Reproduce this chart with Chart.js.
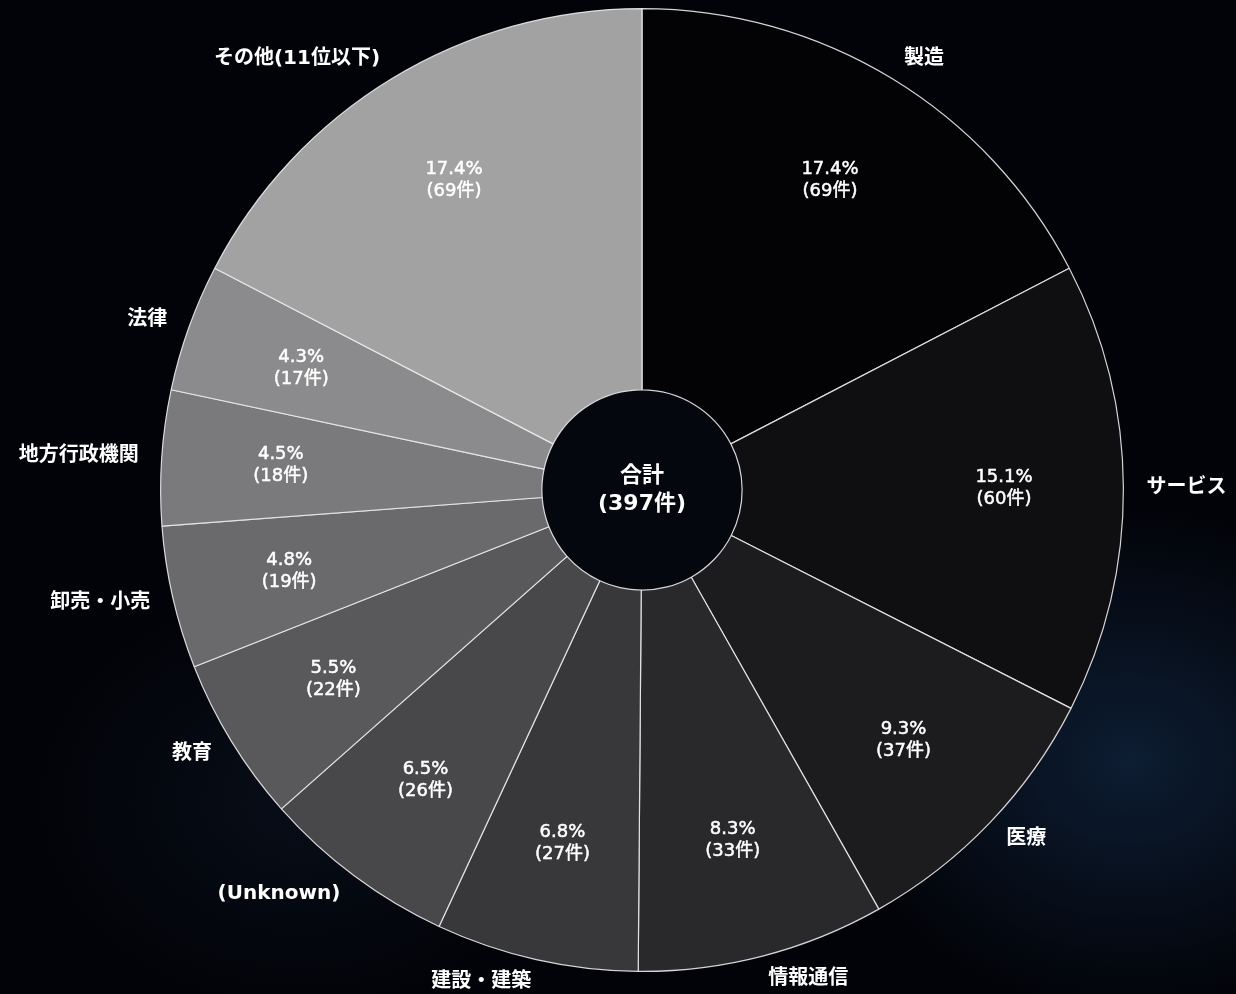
<!DOCTYPE html>
<html lang="ja">
<head>
<meta charset="utf-8">
<script src="https://cdn.jsdelivr.net/npm/chart.js@4"></script>
<style>
  html, body { margin: 0; padding: 0; }
  body {
    width: 1236px; height: 994px; overflow: hidden;
    background:
      radial-gradient(ellipse 420px 360px at 1130px 760px, rgba(22,50,85,0.55), rgba(0,0,0,0) 70%),
      radial-gradient(ellipse 380px 300px at 300px 800px, rgba(14,26,44,0.45), rgba(0,0,0,0) 70%),
      #020308;
  }
  #wrap { position: relative; width: 1236px; height: 994px; }
</style>
</head>
<body>
<div id="wrap"><canvas id="industryChart"></canvas></div>
<script>
const categories = ["製造", "サービス", "医療", "情報通信", "建設・建築", "(Unknown)", "教育", "卸売・小売", "地方行政機関", "法律", "その他(11位以下)"];
const counts = [69, 60, 37, 33, 27, 26, 22, 19, 18, 17, 69];
const sliceColors = ["#030306", "#0f0f12", "#1c1c1f", "#29292c", "#38383b", "#48484b", "#59595c", "#6a6a6d", "#7a7a7c", "#8b8b8d", "#a2a2a2"];
const centerTitle = "合計";

const total = counts.reduce((a, b) => a + b, 0);
const latinFont = '"DejaVu Sans", "Noto Sans CJK JP", sans-serif';

// labels drawn around and inside the ring
const ringLabels = {
  id: 'ringLabels',
  beforeDatasetsDraw(chart) {
    const arc = chart.getDatasetMeta(0).data[0];
    const ctx = chart.ctx;
    ctx.save();
    ctx.beginPath();
    ctx.arc(arc.x, arc.y, arc.innerRadius, 0, Math.PI * 2);
    ctx.fillStyle = '#05070f';
    ctx.fill();
    ctx.restore();
  },
  afterDatasetsDraw(chart) {
    const ctx = chart.ctx;
    const meta = chart.getDatasetMeta(0);
    ctx.save();
    ctx.fillStyle = '#ffffff';
    ctx.strokeStyle = '#ffffff';
    ctx.textBaseline = 'middle';
    meta.data.forEach((el, i) => {
      const mid = (el.startAngle + el.endAngle) / 2;
      const cx = el.x, cy = el.y;
      const vx = Math.cos(mid), vy = Math.sin(mid);
      // value text inside (a thin stroke to make it look medium weight)
      const rIn = el.outerRadius * 0.752;
      const px = cx + vx * rIn, py = cy + vy * rIn;
      ctx.textAlign = 'center';
      ctx.font = '18px ' + latinFont;
      ctx.lineWidth = 0.5;
      const pct = (counts[i] / total * 100).toFixed(1) + '%';
      const cnt = '(' + counts[i] + '件)';
      ctx.fillText(pct, px, py - 11);
      ctx.strokeText(pct, px, py - 11);
      ctx.fillText(cnt, px, py + 11);
      ctx.strokeText(cnt, px, py + 11);
      // category name outside, anchored on the ray
      const rOut = el.outerRadius + 23;
      ctx.font = 'bold 20px ' + latinFont;
      ctx.textAlign = vx >= 0 ? 'left' : 'right';
      ctx.fillText(categories[i], cx + vx * rOut, cy + vy * rOut);
    });
    const c = meta.data[0];
    ctx.textAlign = 'center';
    ctx.font = 'bold 22px ' + latinFont;
    ctx.fillText(centerTitle, c.x, c.y - 14);
    ctx.fillText('(' + total + '件)', c.x, c.y + 14);
    ctx.restore();
  }
};

new Chart(document.getElementById('industryChart'), {
  type: 'doughnut',
  data: {
    labels: categories,
    datasets: [{
      data: counts,
      backgroundColor: sliceColors,
      borderColor: 'rgba(235,235,235,0.9)',
      borderWidth: 1.2
    }]
  },
  options: {
    responsive: true,
    maintainAspectRatio: false,
    animation: false,
    cutout: '20.8%',
    layout: { padding: { left: 160, right: 112, top: 8, bottom: 22 } },
    plugins: {
      legend: { display: false },
      tooltip: { enabled: false }
    }
  },
  plugins: [ringLabels]
});
</script>
</body>
</html>
